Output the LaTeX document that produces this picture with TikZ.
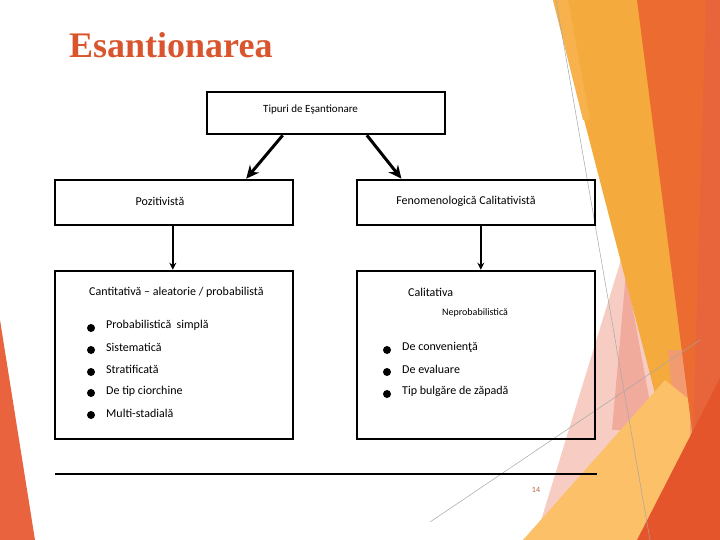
\documentclass[tikz,border=0pt]{standalone}
\usepackage{fontspec}
\setmainfont{Carlito}
\newfontfamily\titlefont{Liberation Serif}
\usetikzlibrary{arrows.meta,calc}
\definecolor{ttl}{HTML}{D9552E}
\definecolor{pgnum}{HTML}{B9603E}
\definecolor{redband}{HTML}{EB6B30}
\definecolor{redright}{HTML}{E8653B}
\definecolor{yelband}{HTML}{F5AA3E}
\definecolor{yelstrip}{HTML}{F7B24D}
\definecolor{palepink}{HTML}{F7CDC3}
\definecolor{midpink}{HTML}{F1AB9D}
\definecolor{lightyel}{HTML}{FBC068}
\definecolor{salmon}{HTML}{F29A70}
\definecolor{darkred}{HTML}{E5552B}
\definecolor{leftred}{HTML}{E9633E}
\begin{document}
\begin{tikzpicture}[x=1pt,y=-1pt,
  box/.style={draw,line width=2.6pt,minimum width=238pt,inner sep=0pt},
  lbl/.style={font=\fontsize{12}{14}\selectfont,inner sep=0pt,anchor=west},
  dot/.style={circle,fill=black,minimum size=8pt,inner sep=0pt},
  bigarrow/.style={line width=3pt,-{Stealth[length=13pt,width=12pt]}},
  smallarrow/.style={line width=2pt,-{Stealth[length=7pt,width=7pt]}},
  thinline/.style={draw=gray!70,line width=0.5pt}]
\useasboundingbox (0,0) rectangle (720,540);
% background decoration
\fill[leftred] (0,320) -- (35,540) -- (0,540) -- cycle;
\fill[palepink] (624,250) -- (690,540) -- (535,540) -- cycle;
\fill[midpink] (626,272) -- (655,430) -- (612,430) -- cycle;
\fill[yelband] (553,0) -- (650,0) -- (700,400) -- (665,432) -- cycle;
\fill[yelstrip] (553,0) -- (568,0) -- (590,120) -- (583,120) -- cycle;
\fill[salmon] (668,350) -- (700,350) -- (705,470) -- (680,470) -- cycle;
\fill[lightyel] (523,540) -- (665,380) -- (690,400) -- (690,540) -- cycle;
\fill[redband] (637,0) -- (720,0) -- (720,540) -- (706,540) -- (683,360) -- cycle;
\fill[redright] (706,0) -- (720,0) -- (720,540) -- (690,540) -- cycle;
\fill[darkred] (637,540) -- (720,378) -- (720,540) -- cycle;
\coordinate (g1a) at (556,0); \coordinate (g1b) at (650,540);
\coordinate (g2a) at (430,522); \coordinate (g2b) at (700,340);
\draw[thinline] (g1a) -- (g1b);
\draw[thinline] (g2a) -- (g2b);
% title
\node[anchor=base west,inner sep=0pt,text=ttl,font=\titlefont\bfseries\fontsize{36}{40}\selectfont] (title) at (69,58) {Esantionarea};
% boxes
\node[box,minimum height=42pt] (tip) at (326,113) {};
\node[lbl,font=\fontsize{11}{13}\selectfont] (tipt) at (263,110) {Tipuri de Eşantionare};
\node[box,minimum height=45pt] (poz) at (174,202.5) {};
\node[lbl,anchor=center] (pozt) at (160,201) {Pozitivistă};
\node[box,minimum height=45pt] (fen) at (476,202.5) {};
\node[lbl,anchor=center] (fent) at (466,201) {Fenomenologică Calitativistă};
\node[box,minimum height=168pt] (can) at (174,355) {};
\node[box,minimum height=168pt] (cal) at (476,355) {};
% arrows
\draw[bigarrow] ($(tip.south west)!0.32!(tip.south east)$) -- ($(poz.north west)!0.80!(poz.north east)$);
\draw[bigarrow] ($(tip.south west)!0.67!(tip.south east)$) -- ($(fen.north west)!0.19!(fen.north east)$);
\draw[smallarrow] ($(poz.south west)!0.495!(poz.south east)$) -- ($(can.north west)!0.495!(can.north east)$);
\draw[smallarrow] ($(fen.south west)!0.52!(fen.south east)$) -- ($(cal.north west)!0.52!(cal.north east)$);
% left box contents
\node[lbl] (cant) at (89,292) {Cantitativă – aleatorie / probabilistă};
\node[dot] (d1) at (91,328) {}; \node[lbl] (l1) at (106,325) {Probabilistică\ \ simplă};
\node[dot] (d2) at (91,350) {}; \node[lbl] (l2) at (106,347) {Sistematică};
\node[dot] (d3) at (91,372) {}; \node[lbl] (l3) at (106,369) {Stratificată};
\node[dot] (d4) at (91,393) {}; \node[lbl] (l4) at (106,391) {De tip ciorchine};
\node[dot] (d5) at (91,415) {}; \node[lbl] (l5) at (106,413) {Multi-stadială};
% right box contents
\node[lbl] (calt) at (408,292) {Calitativa};
\node[lbl,font=\fontsize{10}{12}\selectfont] (nep) at (442,313) {Neprobabilistică};
\node[dot] (r1) at (387,350) {}; \node[lbl] (m1) at (402,347) {De convenienţă};
\node[dot] (r2) at (387,372) {}; \node[lbl] (m2) at (402,369) {De evaluare};
\node[dot] (r3) at (387,394) {}; \node[lbl] (m3) at (402,391) {Tip bulgăre de zăpadă};
% footer line and page number
\coordinate (fl) at (55,474); \coordinate (fr) at (597,474);
\draw[line width=2pt] (fl) -- (fr);
\node[text=pgnum,font=\fontsize{8}{10}\selectfont,inner sep=0pt] (pg) at (536,490) {14};
\end{tikzpicture}
\end{document}
